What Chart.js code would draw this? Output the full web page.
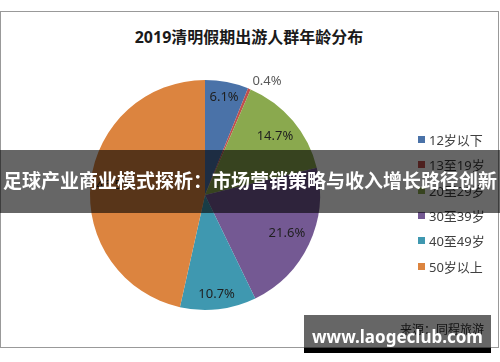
<!DOCTYPE html>
<html>
<head>
<meta charset="utf-8">
<script src="https://cdn.jsdelivr.net/npm/chart.js@4"></script>
<style>
  body { margin: 0; background: #fff; }
  #wrap { position: relative; width: 500px; height: 362px; overflow: hidden;
          font-family: "Noto Sans", "Noto Sans CJK SC", sans-serif; }
  #frame { position: absolute; left: 0; top: 11px; width: 499px; height: 337px;
           box-sizing: border-box; border: 1px solid #999; }
  #title { position: absolute; left: 0; top: 27px; width: 498px; text-align: center;
           font-weight: bold; font-size: 16px; line-height: 20px; color: #1a1a1a; }
  #pie { position: absolute; left: 0; top: 0; }
  #legend { position: absolute; left: 418px; top: 127px; }
  .item { height: 25.3px; display: flex; align-items: center; font-size: 13px; color: #404040; }
  .item i { display: inline-block; width: 7px; height: 7px; margin-right: 4px; }
  #source { position: absolute; left: 400px; top: 320px; font-size: 12px; color: #333; }
  #banner { position: absolute; left: 0; top: 150px; width: 500px; height: 63px;
            background: rgba(0,0,0,0.6); color: #fff; font-weight: bold; font-size: 19px;
            line-height: 63px; text-align: center; white-space: nowrap; }
  #mark { position: absolute; left: 304px; top: 315px; width: 187px; height: 33px;
          background: rgba(0,0,0,0.6); }
  #markbar { position: absolute; left: 304px; top: 348px; width: 187px; height: 5px; background: #000; }
  #marktext { position: absolute; left: 304px; top: 326px; width: 187px; text-align: center;
              color: #fff; font-weight: bold; font-size: 17px; line-height: 22px; }
</style>
</head>
<body>
<div id="wrap">
  <div id="frame"></div>
  <div id="title">2019清明假期出游人群年龄分布</div>
  <canvas id="pie" width="500" height="362"></canvas>
  <div id="legend"></div>
  <div id="source">来源：同程旅游</div>
  <div id="banner">足球产业商业模式探析：市场营销策略与收入增长路径创新</div>
  <div id="mark"></div>
  <div id="markbar"></div>
  <div id="marktext">www.laogeclub.com</div>
</div>
<script>
const ageGroups = ['12岁以下', '13至19岁', '20至29岁', '30至39岁', '40至49岁', '50岁以上'];
const shares = [6.1, 0.4, 14.7, 21.6, 10.7, 46.5];
const sliceColors = ['#4a72a8', '#c0504d', '#8aa94e', '#745993', '#3f98b0', '#dc843f'];

// legend
const legend = document.getElementById('legend');
ageGroups.forEach((name, i) => {
  const row = document.createElement('div');
  row.className = 'item';
  row.innerHTML = `<i style="background:${sliceColors[i]}"></i>${name}`;
  legend.appendChild(row);
});

// percent labels, pushed to the inside edge of each slice (tiny ones go outside)
const sliceLabels = {
  id: 'sliceLabels',
  afterDatasetsDraw(chart) {
    const ctx = chart.ctx;
    const meta = chart.getDatasetMeta(0);
    ctx.save();
    ctx.font = '13px "Noto Sans", sans-serif';
    ctx.textBaseline = 'middle';
    meta.data.forEach((arc, i) => {
      const p = arc.getProps(['x', 'y', 'startAngle', 'endAngle', 'outerRadius'], true);
      const mid = (p.startAngle + p.endAngle) / 2;
      const txt = shares[i].toFixed(1) + '%';
      const w = ctx.measureText(txt).width, h = 13;
      const c = Math.cos(mid), s = Math.sin(mid);
      if (shares[i] < 1) {
        const r = p.outerRadius + 8;
        ctx.fillStyle = '#595959';
        ctx.textAlign = 'left';
        ctx.fillText(txt, p.x + c * r, p.y + s * r);
      } else {
        const lim = p.outerRadius - 5;
        let r = p.outerRadius;
        while (r > 0) {
          const fx = Math.abs(c * r) + w / 2, fy = Math.abs(s * r) + h / 2;
          if (Math.hypot(fx, fy) <= lim) break;
          r -= 0.5;
        }
        ctx.fillStyle = '#1f1f1f';
        ctx.textAlign = 'center';
        ctx.fillText(txt, p.x + c * r, p.y + s * r);
      }
    });
    ctx.restore();
  }
};

new Chart(document.getElementById('pie'), {
  type: 'pie',
  data: {
    labels: ageGroups,
    datasets: [{
      data: shares,
      backgroundColor: sliceColors,
      borderWidth: 0
    }]
  },
  options: {
    responsive: false,
    animation: false,
    layout: { padding: { left: 90, right: 180, top: 80, bottom: 52 } },
    plugins: { legend: { display: false }, tooltip: { enabled: false } }
  },
  plugins: [sliceLabels]
});
</script>
</body>
</html>
